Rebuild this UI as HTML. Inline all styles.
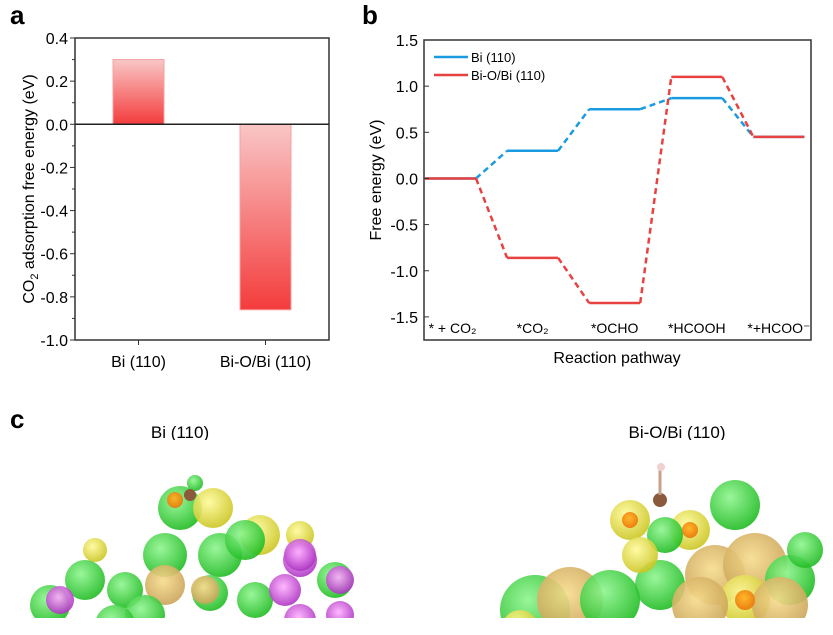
<!DOCTYPE html>
<html><head><meta charset="utf-8"><style>
body{margin:0;background:#fff;width:833px;height:630px;overflow:hidden;font-family:"Liberation Sans",Arial,sans-serif}
svg text{font-family:"Liberation Sans",Arial,sans-serif}
</style></head><body>
<svg id="fig" width="833" height="630" viewBox="0 0 833 630" xmlns="http://www.w3.org/2000/svg">
<defs>
<linearGradient id="barUp" x1="0" y1="0" x2="0" y2="1"><stop offset="0" stop-color="#f9c6c6"/><stop offset="1" stop-color="#f43c3c"/></linearGradient>
<radialGradient id="gG" cx="0.4" cy="0.35" r="0.7"><stop offset="0" stop-color="#8ff58f"/><stop offset="1" stop-color="#19b81c"/></radialGradient>
<radialGradient id="gY" cx="0.4" cy="0.35" r="0.7"><stop offset="0" stop-color="#fffb9a"/><stop offset="1" stop-color="#c8c21a"/></radialGradient>
<radialGradient id="gM" cx="0.45" cy="0.4" r="0.7"><stop offset="0" stop-color="#ffb0ff"/><stop offset="1" stop-color="#a020b8"/></radialGradient>
<radialGradient id="gT" cx="0.45" cy="0.4" r="0.7"><stop offset="0" stop-color="#f7dc8c"/><stop offset="1" stop-color="#c29a50"/></radialGradient>
<radialGradient id="gO" cx="0.45" cy="0.4" r="0.7"><stop offset="0" stop-color="#ffb020"/><stop offset="1" stop-color="#e86a00"/></radialGradient>
</defs>
<text x="10" y="24" font-size="26" font-weight="bold">a</text>
<text x="362" y="24" font-size="26" font-weight="bold">b</text>
<text x="10" y="428" font-size="26" font-weight="bold">c</text>
<g id="chartA"></g>
<g id="chartB"></g>
<text x="180" y="438" font-size="17" text-anchor="middle">Bi (110)</text>
<text x="677" y="438" font-size="17" text-anchor="middle">Bi-O/Bi (110)</text>
<g id="mol"></g>
</svg>
<script>
const NS="http://www.w3.org/2000/svg";
function mk(p,t,a,txt){const e=document.createElementNS(NS,t);for(const k in a)e.setAttribute(k,a[k]);if(txt!==undefined)e.textContent=txt;p.appendChild(e);return e;}

// ---- Chart A data ----
const catsA=["Bi (110)","Bi-O/Bi (110)"];
const valsA=[0.30,-0.86];
const ticksA=[0.4,0.2,0.0,-0.2,-0.4,-0.6,-0.8,-1.0];
// ---- Chart B data ----
const stepsB=["* + CO\u2082","*CO\u2082","*OCHO","*HCOOH","*+HCOO\u207B"];
const biVals=[0,0.30,0.75,0.87,0.45];
const bioVals=[0,-0.86,-1.35,1.10,0.45];
const ticksB=[1.5,1.0,0.5,0.0,-0.5,-1.0,-1.5];

// Chart A
(function(){
const g=document.getElementById('chartA');
const L=75,R=329,T=38,B=340,ymax=0.4,ymin=-1.0;
const y=v=>T+(ymax-v)/(ymax-ymin)*(B-T);
const x=i=>L+(R-L)*(0.25+0.5*i);
valsA.forEach((v,i)=>{
 const r=mk(g,'rect',{x:x(i)-25.5,y:Math.min(y(v),y(0)),width:51,height:Math.abs(y(v)-y(0)),fill:'url(#barUp)',stroke:'#f6a0a0','stroke-width':1});
 
 
});
mk(g,'rect',{x:L,y:T,width:R-L,height:B-T,fill:'none',stroke:'#333','stroke-width':1.5});
mk(g,'line',{x1:L,x2:R,y1:y(0),y2:y(0),stroke:'#222','stroke-width':1.5});
ticksA.forEach(t=>{
 mk(g,'line',{x1:L-5,x2:L,y1:y(t),y2:y(t),stroke:'#333'});
 const tx=mk(g,'text',{x:L-7,y:y(t)+6,'font-size':16,'text-anchor':'end'},t.toFixed(1));
 
 
});
for(let i=0;i<ticksA.length-1;i++){const m=(ticksA[i]+ticksA[i+1])/2;mk(g,'line',{x1:L-3,x2:L,y1:y(m),y2:y(m),stroke:'#333'});}
catsA.forEach((c,i)=>{
 mk(g,'line',{x1:x(i),x2:x(i),y1:B,y2:B+5,stroke:'#333'});
 const tx=mk(g,'text',{x:x(i),y:B+27,'font-size':16,'text-anchor':'middle'},c);
 
 
});
const yt=mk(g,'text',{transform:'translate(34,189) rotate(-90)','font-size':16,'text-anchor':'middle'});
yt.innerHTML='CO<tspan font-size="11" dy="4">2</tspan><tspan dy="-4"> adsorption free energy (eV)</tspan>';


})();

// Chart B
(function(){
const g=document.getElementById('chartB');
const L=424,R=811,T=40,B=340;
const y=v=>40+(1.5-v)*92.3;
const x0=425,sw=51,sp=82.1;
const sx=i=>x0+i*sp;
function series(vals,col,name){
 const s=mk(g,'g',{});
 
 
 vals.forEach((v,i)=>{
  mk(s,'line',{x1:sx(i),x2:sx(i)+sw,y1:y(v),y2:y(v),stroke:col,'stroke-width':2.5});
  if(i>0)mk(s,'line',{x1:sx(i-1)+sw,x2:sx(i),y1:y(vals[i-1]),y2:y(v),stroke:col,'stroke-width':2.5,'stroke-dasharray':'6,4'});
 });
}
series(biVals,'#1a9be0','series-bi');
series(bioVals,'#e84141','series-bio');
mk(g,'rect',{x:L,y:T,width:R-L,height:B-T,fill:'none',stroke:'#333','stroke-width':1.5});
ticksB.forEach(t=>{
 mk(g,'line',{x1:L,x2:L+5,y1:y(t),y2:y(t),stroke:'#333'});
 const tx=mk(g,'text',{x:L-6,y:y(t)+6,'font-size':16,'text-anchor':'end'},t.toFixed(1));
 
 
});
stepsB.forEach((c,i)=>{
 const tx=mk(g,'text',{x:sx(i)+sw/2+(i==0?2:0),y:333,'font-size':14,'text-anchor':'middle'},c);
 
 
});
const xt=mk(g,'text',{x:617,y:363,'font-size':16,'text-anchor':'middle'},'Reaction pathway');


const yt=mk(g,'text',{transform:'translate(381,180) rotate(-90)','font-size':16,'text-anchor':'middle'},'Free energy (eV)');


[['Bi (110)','#1a9be0',57],['Bi-O/Bi (110)','#e84141',75]].forEach(([n,c,yy])=>{
 const lg=mk(g,'g',{});
 
 
 mk(lg,'line',{x1:434,x2:468,y1:yy,y2:yy,stroke:c,'stroke-width':2.5});
 mk(lg,'text',{x:471,y:yy+5,'font-size':13},n);
});
})();

// molecular images (decorative approximation)
(function(){
const g=document.getElementById('mol');
mk(g,'rect',{x:0,y:440,width:833,height:190,fill:'#fff'});
const atoms=[
[195,483,8,'G'],[165,555,22,'G'],[220,555,22,'G'],[180,508,22,'G'],[213,508,20,'Y'],[260,535,20,'Y'],[245,540,20,'G'],[300,535,14,'Y'],[300,560,17,'M'],[300,555,16,'M'],
[95,550,12,'Y'],[85,580,20,'G'],[125,590,18,'G'],[165,585,20,'T'],[145,615,20,'G'],[210,593,18,'G'],[205,590,14,'T'],[255,600,18,'G'],[285,590,16,'M'],[335,580,18,'G'],[340,580,14,'M'],[50,605,20,'G'],[60,600,14,'M'],[115,625,20,'G'],[300,620,16,'M'],[340,615,14,'M'],[175,500,8,'O'],
[535,610,35,'G'],[570,600,33,'T'],[630,520,20,'Y'],[690,530,20,'Y'],[665,535,18,'G'],[735,505,25,'G'],[660,585,25,'G'],[640,555,18,'Y'],[715,575,30,'T'],[610,600,30,'G'],[755,565,32,'T'],[790,580,25,'G'],[745,600,25,'Y'],[700,605,28,'T'],[780,605,28,'T'],[805,550,18,'G'],[520,628,18,'Y'],[630,520,8,'O'],[690,530,8,'O'],[745,600,10,'O']
];
atoms.forEach(([x,y,r,c])=>mk(g,'circle',{cx:x,cy:y,r:r,fill:'url(#g'+c+')',opacity:0.9}));
mk(g,'circle',{cx:660,cy:500,r:7,fill:'#8b5a3c'});
mk(g,'line',{x1:660,x2:660,y1:470,y2:495,stroke:'#c9a08a','stroke-width':3});
mk(g,'circle',{cx:661,cy:467,r:4,fill:'#f0d0d0'});
mk(g,'circle',{cx:190,cy:495,r:6,fill:'#8b5a3c'});
mk(g,'rect',{x:0,y:618,width:833,height:12,fill:'#fff'});
})();
</script>
</body></html>
